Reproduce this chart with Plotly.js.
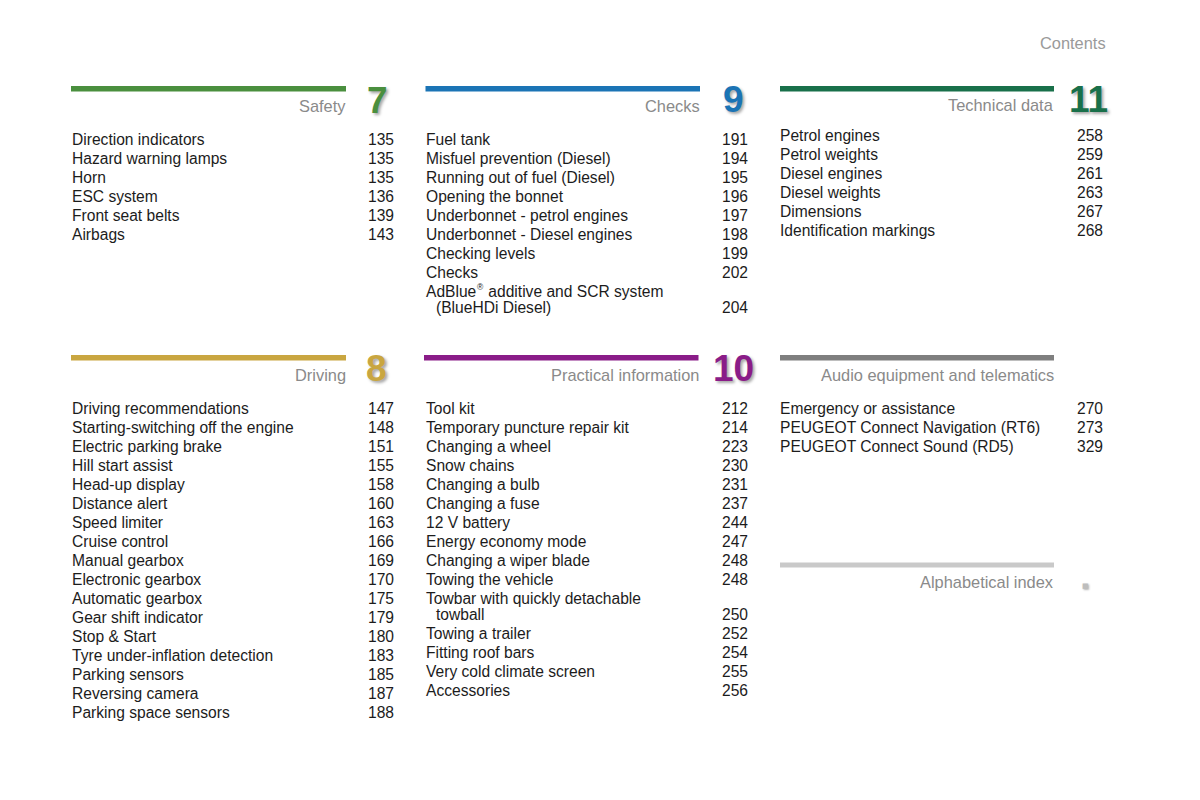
<!DOCTYPE html>
<html>
<head>
<meta charset="utf-8">
<script src="https://cdn.plot.ly/plotly-3.0.1.min.js"></script>
<style>html,body{margin:0;padding:0;background:#fff;}#chart{width:1200px;height:800px;}</style>
</head>
<body>
<div id="chart"></div>
<script>
// ---- data ----
const sectionTitles = ["Safety", "Checks", "Technical data", "Driving", "Practical information", "Audio equipment and telematics"];
const sectionNumbers = ["7", "9", "11", "8", "10", ""];

const safetyItems = ["Direction indicators", "Hazard warning lamps", "Horn", "ESC system", "Front seat belts", "Airbags"];
const safetyPages = ["135", "135", "135", "136", "139", "143"];

const checksItems = ["Fuel tank", "Misfuel prevention (Diesel)", "Running out of fuel (Diesel)", "Opening the bonnet", "Underbonnet - petrol engines", "Underbonnet - Diesel engines", "Checking levels", "Checks", "AdBlue® additive and SCR system|(BlueHDi Diesel)"];
const checksPages = ["191", "194", "195", "196", "197", "198", "199", "202", "204"];

const techItems = ["Petrol engines", "Petrol weights", "Diesel engines", "Diesel weights", "Dimensions", "Identification markings"];
const techPages = ["258", "259", "261", "263", "267", "268"];

const drivingItems = ["Driving recommendations", "Starting-switching off the engine", "Electric parking brake", "Hill start assist", "Head-up display", "Distance alert", "Speed limiter", "Cruise control", "Manual gearbox", "Electronic gearbox", "Automatic gearbox", "Gear shift indicator", "Stop & Start", "Tyre under-inflation detection", "Parking sensors", "Reversing camera", "Parking space sensors"];
const drivingPages = ["147", "148", "151", "155", "158", "160", "163", "166", "169", "170", "175", "179", "180", "183", "185", "187", "188"];

const practicalItems = ["Tool kit", "Temporary puncture repair kit", "Changing a wheel", "Snow chains", "Changing a bulb", "Changing a fuse", "12 V battery", "Energy economy mode", "Changing a wiper blade", "Towing the vehicle", "Towbar with quickly detachable|towball", "Towing a trailer", "Fitting roof bars", "Very cold climate screen", "Accessories"];
const practicalPages = ["212", "214", "223", "230", "231", "237", "244", "247", "248", "248", "250", "252", "254", "255", "256"];

const audioItems = ["Emergency or assistance", "PEUGEOT Connect Navigation (RT6)", "PEUGEOT Connect Sound (RD5)"];
const audioPages = ["270", "273", "329"];

const headerText = "Contents";
const indexTitle = "Alphabetical index";

// ---- styling / placement ----
const sectionItems = [safetyItems, checksItems, techItems, drivingItems, practicalItems, audioItems];
const sectionPages = [safetyPages, checksPages, techPages, drivingPages, practicalPages, audioPages];
const colors = ["#4a8f3e", "#1b74b5", "#19704a", "#c9a640", "#8a1c88", "#7f7f7f"];
const geo = [
  {bx0: 71, bx1: 346, by0: 86, by1: 91.5, ty: 106, nx: 377, ny: 100, lx: 71, px: 394.5, top: 139.5},
  {bx0: 425.5, bx1: 700, by0: 86, by1: 91.5, ty: 106, nx: 733, ny: 99, lx: 425, px: 748.5, top: 139.5},
  {bx0: 780, bx1: 1054, by0: 86, by1: 91.5, ty: 105, nx: 1088, ny: 99, lx: 779, px: 1103.5, top: 135.5},
  {bx0: 71, bx1: 346, by0: 355, by1: 360.5, ty: 375, nx: 376, ny: 368, lx: 71, px: 394.5, top: 408.5},
  {bx0: 424, bx1: 698.5, by0: 355, by1: 360.5, ty: 375, nx: 733, ny: 368, lx: 425, px: 748.5, top: 408.5},
  {bx0: 780, bx1: 1054, by0: 355, by1: 360.5, ty: 375, nx: 0, ny: 0, lx: 779, px: 1103.5, top: 408.5}
];
const ROW = 19, CONT = 16;
const FAMILY = "Liberation Sans, Arial, sans-serif";
const itemFont = {family: FAMILY, size: 15.6, color: "#1c1c1c"};
const supFont = {family: FAMILY, size: 8.5, color: "#1c1c1c"};
const titleFont = {family: FAMILY, size: 16.4, color: "#8a8a8a"};

const ctx = document.createElement("canvas").getContext("2d");
function textWidth(s, f) { ctx.font = f.size + "px " + f.family; return ctx.measureText(s).width; }

const shapes = [];
const annotations = [];

function ann(x, y, text, font, xanchor) {
  annotations.push({x: x, y: y, xref: "x", yref: "y", text: text, showarrow: false,
    xanchor: xanchor, yanchor: "middle", align: "left", font: font, borderpad: 0});
}

function line(x, y, text) {
  const k = text.indexOf("®");
  if (k < 0) { ann(x, y, text, itemFont, "left"); return; }
  const a = text.slice(0, k), b = text.slice(k + 1);
  ann(x, y, a, itemFont, "left");
  const wa = textWidth(a, itemFont);
  ann(x + wa + 0.5, y - 4.5, "®", supFont, "left");
  const ws = textWidth("®", supFont);
  ann(x + wa + ws + 1, y, b, itemFont, "left");
}

sectionTitles.forEach((title, i) => {
  const g = geo[i];
  shapes.push({type: "rect", xref: "x", yref: "y", x0: g.bx0, x1: g.bx1, y0: g.by0, y1: g.by1,
    fillcolor: colors[i], line: {width: 0}, layer: "above"});
  ann(g.bx1 + 1, g.ty, title, titleFont, "right");
  if (sectionNumbers[i]) {
    ann(g.nx, g.ny, sectionNumbers[i], {family: FAMILY, size: 37, weight: "bold",
      color: colors[i], shadow: "2px 2px 3px rgba(0,0,0,0.35)"}, "center");
  }
  let y = g.top;
  sectionItems[i].forEach((label, j) => {
    const parts = label.split("|");
    line(g.lx, y, parts[0]);
    for (let k = 1; k < parts.length; k++) {
      y += CONT;
      line(g.lx + 10, y, parts[k]);
    }
    ann(g.px, y, sectionPages[i][j], itemFont, "right");
    y += ROW;
  });
});

// alphabetical index block
shapes.push({type: "rect", xref: "x", yref: "y", x0: 780, x1: 1054, y0: 562.5, y1: 567.5,
  fillcolor: "#c9c9c9", line: {width: 0}, layer: "above"});
ann(1055, 582, indexTitle, titleFont, "right");
ann(1085, 586, "■", {family: "DejaVu Sans, sans-serif", size: 7, color: "#bdbdbd",
  shadow: "1px 1px 2px rgba(0,0,0,0.3)"}, "center");

// header
ann(1107, 43, headerText, {family: FAMILY, size: 16.4, color: "#9a9a9a"}, "right");

const layout = {
  width: 1200, height: 800,
  margin: {l: 0, r: 0, t: 0, b: 0, pad: 0},
  paper_bgcolor: "#ffffff", plot_bgcolor: "#ffffff",
  xaxis: {range: [0, 1200], visible: false, fixedrange: true},
  yaxis: {range: [800, 0], visible: false, fixedrange: true},
  showlegend: false,
  shapes: shapes,
  annotations: annotations
};

Plotly.newPlot("chart", [{x: [], y: [], type: "scatter", mode: "markers", hoverinfo: "skip"}], layout,
  {displayModeBar: false, staticPlot: true});
</script>
</body>
</html>
